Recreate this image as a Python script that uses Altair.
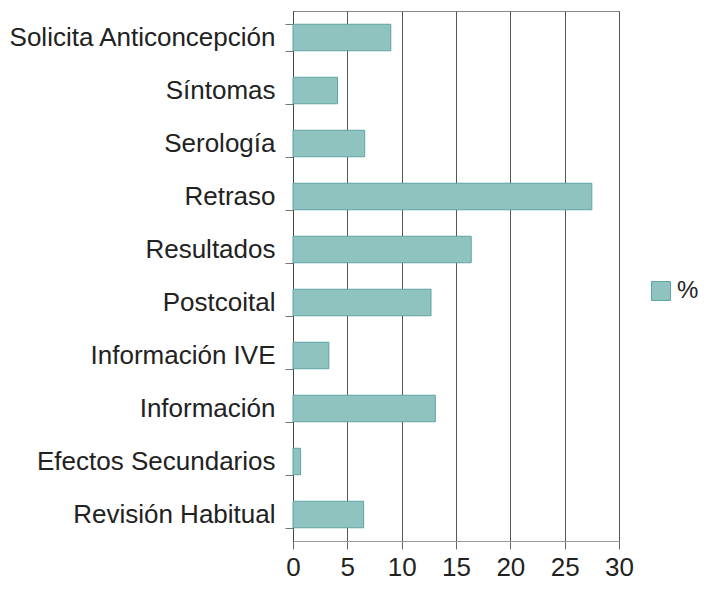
import altair as alt
import pandas as pd

categories = ["Solicita Anticoncepción", "Síntomas", "Serología", "Retraso", "Resultados",
              "Postcoital", "Información IVE", "Información", "Efectos Secundarios", "Revisión Habitual"]
values = [9.0, 4.1, 6.6, 27.5, 16.4, 12.7, 3.3, 13.1, 0.7, 6.5]
series = ["%"] * len(categories)
x_ticks = [0, 5, 10, 15, 20, 25, 30]

df = pd.DataFrame({"cat": categories, "val": values, "series": series})

FONT = "Liberation Sans"

chart = alt.Chart(df).mark_bar(stroke="#5fa3a3", strokeWidth=1).encode(
    x=alt.X("val:Q", scale=alt.Scale(domain=[0, 30], nice=False),
            axis=alt.Axis(values=x_ticks, title=None, grid=True, gridColor="#555555",
                          gridWidth=1, labelFontSize=26, labelFont=FONT, labelFlush=False,
                          labelColor="#222222", tickColor="#666666", tickSize=8,
                          domain=True, domainColor="#999999", labelPadding=5)),
    y=alt.Y("cat:N", sort=categories, scale=alt.Scale(paddingInner=0.5, paddingOuter=0.25),
            axis=alt.Axis(title=None, labelFontSize=26, labelFont=FONT, labelLimit=0,
                          labelColor="#222222", tickBand="extent", tickColor="#777777",
                          tickSize=8, domainColor="#444444", labelPadding=10, grid=False)),
    color=alt.Color("series:N", scale=alt.Scale(range=["#8ec3c0"]),
                    legend=alt.Legend(title=None, symbolType="square", symbolSize=360,
                                      symbolStrokeColor="#5fa3a3", symbolStrokeWidth=1,
                                      labelFontSize=24, labelFont=FONT, labelOffset=4,
                                      labelColor="#222222", orient="none",
                                      legendX=356, legendY=268)),
).properties(
    width=326, height=530,
    autosize=alt.AutoSizeParams(type="none"),
    padding={"left": 285, "top": 3, "right": 86, "bottom": 40},
).configure_view(stroke="#888888", strokeWidth=1)

chart.save("out.html", embed_options={"renderer": "svg", "actions": False})
